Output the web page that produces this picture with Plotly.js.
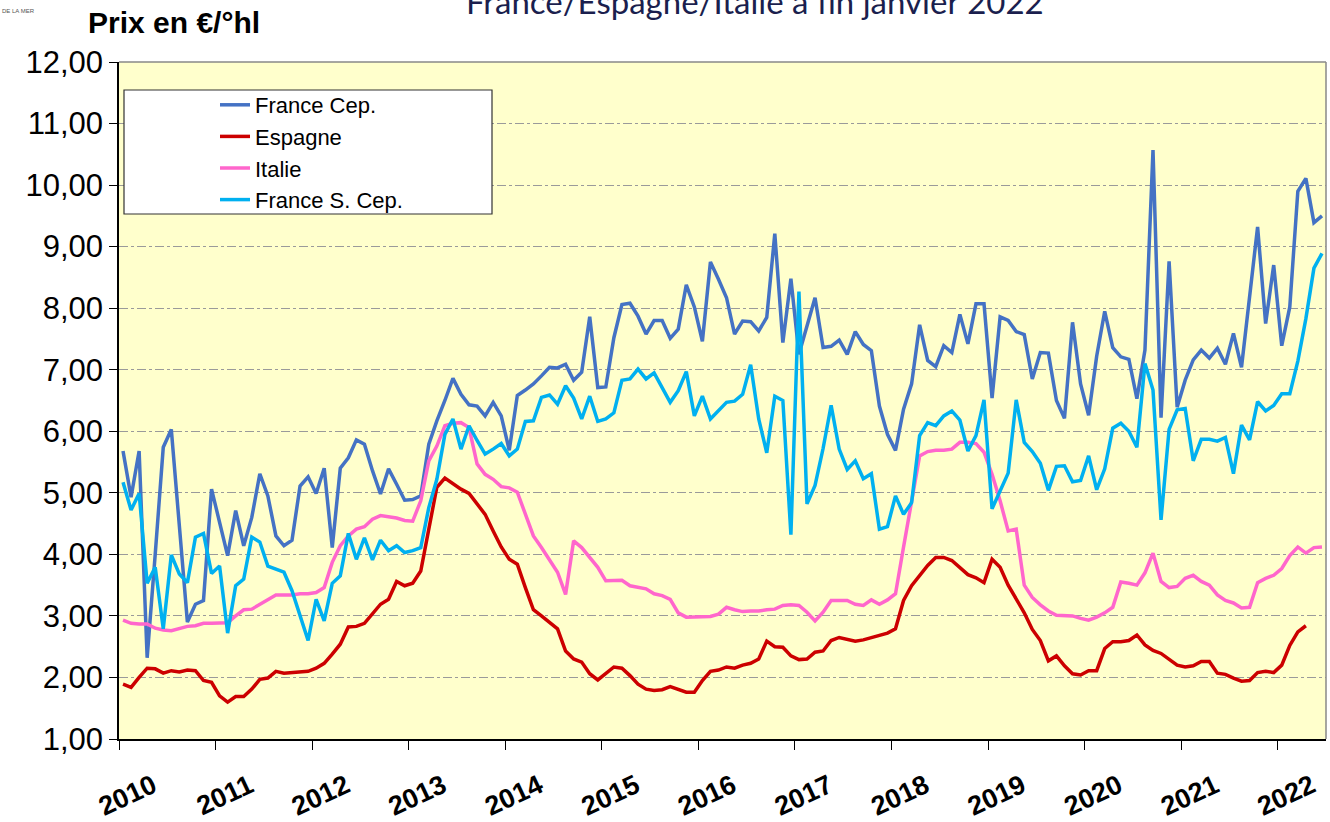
<!DOCTYPE html>
<html>
<head>
<meta charset="utf-8">
<script src="https://cdn.plot.ly/plotly-3.0.1.min.js"></script>
<style>
  html, body { margin: 0; padding: 0; background: #ffffff; }
  #chart { width: 1330px; height: 822px; }
</style>
</head>
<body>
<div id="chart"></div>
<script>
// ---- Data (monthly prices, €/°hl, January 2010 onwards) ----
const yearLabels = ["2010","2011","2012","2013","2014","2015","2016","2017","2018","2019","2020","2021","2022"];
const seriesNames = ["France Cep.", "Espagne", "Italie", "France S. Cep."];

const franceCep = [
  5.68,4.93,5.68,2.32,4.00,5.74,6.03,4.40,2.90,3.19,3.25,5.06,
  4.52,3.98,4.71,4.14,4.60,5.31,4.95,4.30,4.14,4.23,5.11,5.26,
  4.99,5.40,4.11,5.40,5.57,5.86,5.79,5.36,4.98,5.39,5.14,4.88,
  4.89,4.95,5.79,6.17,6.50,6.86,6.60,6.43,6.41,6.25,6.47,6.25,
  5.69,6.58,6.67,6.77,6.90,7.04,7.03,7.09,6.83,6.96,7.86,6.71,
  6.72,7.52,8.06,8.08,7.87,7.58,7.80,7.80,7.51,7.66,8.38,8.02,
  7.46,8.75,8.47,8.17,7.58,7.79,7.78,7.63,7.85,9.21,7.44,8.48,
  7.25,7.71,8.17,7.36,7.38,7.48,7.25,7.62,7.41,7.31,6.41,5.95,
  5.69,6.36,6.77,7.73,7.15,7.05,7.39,7.28,7.90,7.42,8.07,8.07,
  6.54,7.86,7.80,7.62,7.57,6.85,7.28,7.27,6.50,6.21,7.77,6.77,
  6.26,7.22,7.95,7.36,7.21,7.17,6.53,7.32,10.57,6.22,8.76,6.39,
  6.83,7.16,7.32,7.19,7.35,7.09,7.59,7.04,8.18,9.32,7.75,8.70,
  7.39,8.02,9.90,10.11,9.39,9.50
];
const espagne = [
  1.89,1.84,2.00,2.15,2.14,2.07,2.11,2.09,2.12,2.11,1.95,1.92,
  1.70,1.60,1.69,1.69,1.81,1.97,1.99,2.10,2.07,2.08,2.10,2.10,
  2.15,2.23,2.38,2.54,2.82,2.83,2.88,3.03,3.19,3.27,3.56,3.49,
  3.53,3.73,4.44,5.09,5.24,5.15,5.06,4.99,4.82,4.65,4.38,4.12,
  3.92,3.84,3.46,3.10,3.00,2.89,2.79,2.43,2.30,2.25,2.06,1.96,
  2.06,2.17,2.15,2.03,1.89,1.81,1.79,1.80,1.85,1.81,1.76,1.76,
  1.95,2.10,2.12,2.17,2.15,2.20,2.23,2.30,2.59,2.50,2.49,2.35,
  2.29,2.30,2.41,2.43,2.60,2.65,2.62,2.59,2.61,2.65,2.69,2.72,
  2.79,3.25,3.49,3.65,3.82,3.95,3.95,3.90,3.79,3.67,3.62,3.54,
  3.92,3.79,3.50,3.28,3.05,2.78,2.60,2.27,2.35,2.19,2.06,2.04,
  2.11,2.11,2.47,2.58,2.58,2.60,2.69,2.53,2.44,2.39,2.29,2.20,
  2.17,2.19,2.26,2.26,2.07,2.05,1.99,1.94,1.95,2.08,2.10,2.08,
  2.20,2.52,2.74,2.84,null,null
];
const italie = [
  2.93,2.88,2.87,2.87,2.80,2.77,2.76,2.79,2.83,2.84,2.88,2.88,
  2.88,2.89,3.00,3.10,3.11,3.19,3.27,3.34,3.34,3.34,3.36,3.36,
  3.38,3.46,3.87,4.14,4.30,4.41,4.45,4.57,4.63,4.61,4.59,4.55,
  4.54,4.87,5.52,5.76,6.09,6.13,6.14,6.06,5.47,5.30,5.22,5.10,
  5.08,5.01,4.65,4.30,4.11,3.92,3.71,3.35,4.22,4.11,3.95,3.79,
  3.57,3.58,3.58,3.49,3.46,3.44,3.36,3.33,3.27,3.05,2.98,2.98,
  2.99,2.99,3.03,3.14,3.10,3.07,3.08,3.08,3.10,3.11,3.17,3.18,
  3.17,3.06,2.92,3.06,3.25,3.25,3.25,3.19,3.17,3.26,3.19,3.26,
  3.36,4.12,4.87,5.60,5.67,5.69,5.69,5.71,5.82,5.82,5.80,5.66,
  5.30,4.87,4.38,4.41,3.50,3.30,3.18,3.08,3.01,3.01,3.00,2.96,
  2.93,2.98,3.05,3.14,3.55,3.53,3.50,3.70,4.02,3.56,3.46,3.48,
  3.61,3.66,3.56,3.50,3.34,3.25,3.21,3.13,3.14,3.54,3.61,3.66,
  3.77,3.98,4.12,4.02,4.11,4.12
];
const franceSCep = [
  5.17,4.72,4.99,3.53,3.79,2.79,3.99,3.68,3.54,4.28,4.34,3.69,
  3.81,2.72,3.49,3.60,4.28,4.20,3.81,3.76,3.71,3.41,3.00,2.60,
  3.27,2.92,3.53,3.65,4.34,3.92,4.27,3.91,4.23,4.06,4.14,4.03,
  4.06,4.11,4.76,5.22,5.95,6.20,5.71,6.09,5.85,5.63,5.71,5.80,
  5.60,5.71,6.16,6.17,6.55,6.59,6.44,6.74,6.54,6.20,6.57,6.16,
  6.20,6.30,6.83,6.85,7.01,6.85,6.95,6.71,6.47,6.66,6.97,6.25,
  6.57,6.20,6.33,6.47,6.49,6.60,7.08,6.20,5.65,6.57,6.50,4.32,
  8.27,4.82,5.12,5.72,6.42,5.71,5.38,5.52,5.23,5.31,4.41,4.45,
  4.95,4.65,4.84,5.93,6.14,6.09,6.25,6.33,6.18,5.68,5.93,6.51,
  4.74,5.03,5.32,6.51,5.82,5.67,5.48,5.04,5.43,5.44,5.18,5.20,
  5.60,5.05,5.39,6.05,6.13,6.00,5.74,7.10,6.67,4.56,6.03,6.35,
  6.37,5.52,5.87,5.87,5.84,5.90,5.31,6.10,5.86,6.48,6.33,6.42,
  6.61,6.61,7.14,7.83,8.65,8.89
];
const yTickValues = [1,2,3,4,5,6,7,8,9,10,11,12];

// ---- Build traces ----
const nMonths = 150;
const monthPos = franceCep.map((_, i) => i + 0.5);   // centre of each monthly category
const yearTicks = yearLabels.map((_, k) => k * 12);

const colors = ["#4472C4", "#CC0000", "#FF66CC", "#00B0F0"];
const allSeries = [franceCep, espagne, italie, franceSCep];
const traces = allSeries.map((vals, s) => ({
  type: "scatter",
  mode: "lines",
  name: seriesNames[s],
  x: monthPos.slice(0, vals.length),
  y: vals,
  line: { color: colors[s], width: 3.5 },
  connectgaps: false,
  hoverinfo: "x+y+name"
}));

// plot area in pixels
const L = 119, R = 4, T = 62, B = 83, W = 1330, H = 822;
const pw = W - L - R, ph = H - T - B;
const px2x = p => (p - L) / pw;
const py2y = p => (H - B - p) / ph;

const layout = {
  width: W, height: H,
  margin: { l: L, r: R, t: T, b: B, pad: 0 },
  paper_bgcolor: "#ffffff",
  plot_bgcolor: "#FFFFCC",
  separators: ", ",
  font: { family: "Liberation Sans, Arial, sans-serif", color: "#000000" },
  showlegend: true,
  legend: {
    x: px2x(215), y: py2y(84), xanchor: "left", yanchor: "top",
    bgcolor: "rgba(0,0,0,0)", borderwidth: 0,
    font: { size: 22, family: "Liberation Sans, Arial, sans-serif", color: "#000" },
    tracegroupgap: 0
  },
  xaxis: {
    range: [0, nMonths],
    tickmode: "array",
    tickvals: yearTicks,
    ticktext: yearLabels,
    tickangle: -25,
    ticklabelshift: 34,
    ticklabelstandoff: 10,
    tickfont: { size: 27, family: "Liberation Sans, Arial, sans-serif", weight: "bold", color: "#000" },
    ticks: "outside", ticklen: 9, tickwidth: 1, tickcolor: "#000",
    showline: true, linecolor: "#000", linewidth: 1.5,
    showgrid: false, zeroline: false, fixedrange: true
  },
  yaxis: {
    range: [1, 12],
    tickmode: "array",
    tickvals: yTickValues,
    tickformat: ".2f",
    tickfont: { size: 31, family: "Liberation Sans, Arial, sans-serif", color: "#000" },
    ticks: "outside", ticklen: 8, tickwidth: 1, tickcolor: "#000",
    showline: true, linecolor: "#000", linewidth: 1.5,
    showgrid: true, gridcolor: "#9a9a9a", gridwidth: 1, griddash: "dashdot",
    zeroline: false, fixedrange: true
  },
  shapes: [
    // top and right plot border
    { type: "line", xref: "paper", yref: "paper", x0: 0, x1: 1, y0: 1, y1: 1, line: { color: "#888", width: 1.5 } },
    { type: "line", xref: "paper", yref: "paper", x0: 1, x1: 1, y0: 0, y1: 1, line: { color: "#888", width: 1.5 } },
    // legend box
    { type: "rect", xref: "paper", yref: "paper", layer: "above",
      x0: px2x(124), x1: px2x(492), y0: py2y(214), y1: py2y(90),
      fillcolor: "#ffffff", line: { color: "#333", width: 1.2 } }
  ],
  annotations: [
    { text: "<b>Prix en €/°hl</b>", xref: "paper", yref: "paper",
      x: px2x(86), y: py2y(22), xanchor: "left", yanchor: "middle", showarrow: false,
      font: { size: 30, family: "Liberation Sans, Arial, sans-serif", color: "#000" } },
    { text: "France/Espagne/Italie à fin janvier 2022", xref: "paper", yref: "paper",
      x: px2x(755), y: py2y(1), xanchor: "center", yanchor: "middle", showarrow: false,
      font: { size: 33, family: "Lato, Open Sans, sans-serif", color: "#1B1F4E" } },
    { text: "DE LA MER", xref: "paper", yref: "paper",
      x: px2x(0), y: py2y(11), xanchor: "left", yanchor: "middle", showarrow: false,
      font: { size: 6, family: "Liberation Sans, Arial, sans-serif", color: "#555" } }
  ]
};

Plotly.newPlot("chart", traces, layout, { displayModeBar: false, staticPlot: false });
</script>
</body>
</html>
